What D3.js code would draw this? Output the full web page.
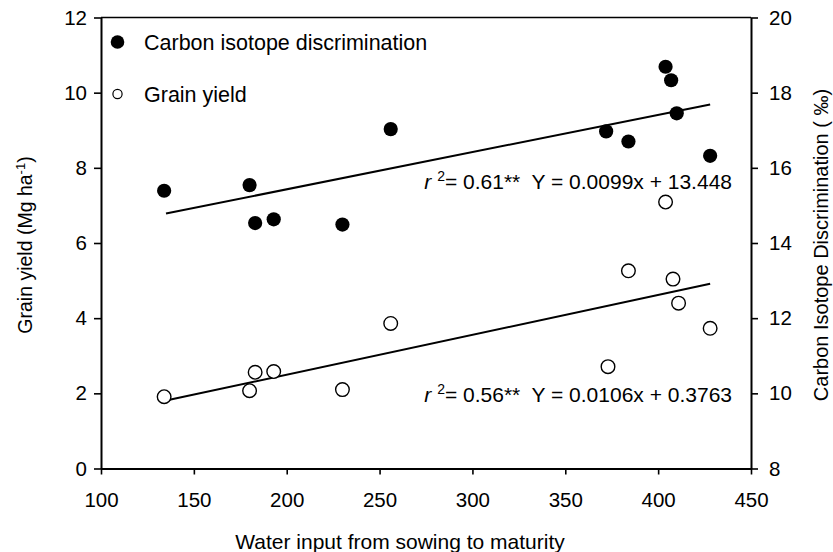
<!DOCTYPE html>
<html>
<head>
<meta charset="utf-8">
<script src="https://cdn.jsdelivr.net/npm/d3@7"></script>
<style>
  html, body { margin: 0; padding: 0; background: #fff; }
  svg { display: block; font-family: "Liberation Sans", Arial, sans-serif; }
  text { fill: #000; white-space: pre; }
</style>
</head>
<body>
<svg id="chart" width="833" height="552"></svg>
<script>
// ---- data ----
const waterInput = [134, 180, 183, 193, 230, 256, 372, 384, 404, 407, 410, 428];
const carbonDiscrimination = [15.39, 15.54, 14.53, 14.63, 14.49, 17.03, 16.97, 16.70, 18.69, 18.33, 17.45, 16.32];
const waterInputYield = [134, 180, 183, 193, 230, 256, 373, 384, 404, 408, 411, 428];
const grainYield = [1.91, 2.07, 2.56, 2.58, 2.10, 3.86, 2.71, 5.26, 7.09, 5.04, 4.40, 3.73];

const xTicks = [100, 150, 200, 250, 300, 350, 400, 450];
const leftTicks = [0, 2, 4, 6, 8, 10, 12];
const rightTicks = [8, 10, 12, 14, 16, 18, 20];

// regression fits: [slope, intercept], x-range of fitted line
const fitCID = [0.0099, 13.448];
const fitYield = [0.0106, 0.3763];
const fitRange = [135, 428];

const legendLabels = ["Carbon isotope discrimination", "Grain yield"];
const annotCID = ["r", "2", "= 0.61**  Y = 0.0099x + 13.448"];
const annotYield = ["r", "2", "= 0.56**  Y = 0.0106x + 0.3763"];

// ---- scales ----
const svg = d3.select("#chart");
const x = d3.scaleLinear().domain([100, 450]).range([101, 751]);
const yL = d3.scaleLinear().domain([0, 12]).range([468.5, 17.5]);
const yR = d3.scaleLinear().domain([8, 20]).range([468.5, 17.5]);

// ---- frame (top border) ----
svg.append("line")
  .attr("x1", x(100)).attr("x2", x(450))
  .attr("y1", yL(12)).attr("y2", yL(12))
  .attr("stroke", "#000").attr("stroke-width", 1.6);

// ---- axes ----
function styleAxis(g) {
  g.selectAll(".domain").attr("stroke", "#000").attr("stroke-width", 2);
  g.selectAll(".tick line").attr("stroke", "#000").attr("stroke-width", 1.6);
  g.selectAll("text").attr("fill", "#000").style("font-size", "20.5px")
    .style("font-family", '"Liberation Sans", Arial, sans-serif');
}

const gx = svg.append("g").attr("transform", `translate(0,${yL(0)})`)
  .call(d3.axisBottom(x).tickValues(xTicks).tickSize(6).tickSizeOuter(0).tickPadding(18));
styleAxis(gx);

const gl = svg.append("g").attr("transform", `translate(${x(100)},0)`)
  .call(d3.axisLeft(yL).tickValues(leftTicks).tickSize(7).tickSizeOuter(0).tickPadding(7));
styleAxis(gl);

const gr = svg.append("g").attr("transform", `translate(${x(450)},0)`)
  .call(d3.axisRight(yR).tickValues(rightTicks).tickSize(7).tickSizeOuter(0).tickPadding(11));
styleAxis(gr);

// ---- regression lines ----
const lineGen = (scale, fit) => d3.line()
  .x(d => x(d)).y(d => scale(fit[0] * d + fit[1]));

svg.append("path").datum(fitRange)
  .attr("d", lineGen(yR, fitCID))
  .attr("fill", "none").attr("stroke", "#000").attr("stroke-width", 2);
svg.append("path").datum(fitRange)
  .attr("d", lineGen(yL, fitYield))
  .attr("fill", "none").attr("stroke", "#000").attr("stroke-width", 2);

// ---- points ----
svg.append("g").selectAll("circle")
  .data(waterInput.map((w, i) => [w, carbonDiscrimination[i]]))
  .join("circle")
  .attr("cx", d => x(d[0])).attr("cy", d => yR(d[1]))
  .attr("r", 7.1).attr("fill", "#000");

svg.append("g").selectAll("circle")
  .data(waterInputYield.map((w, i) => [w, grainYield[i]]))
  .join("circle")
  .attr("cx", d => x(d[0])).attr("cy", d => yL(d[1]))
  .attr("r", 6.8).attr("fill", "#fff").attr("stroke", "#000").attr("stroke-width", 1.4);

// ---- legend ----
const lg = svg.append("g");
lg.append("circle").attr("cx", 117.5).attr("cy", 42).attr("r", 6.8).attr("fill", "#000");
lg.append("circle").attr("cx", 117.5).attr("cy", 94).attr("r", 4.6)
  .attr("fill", "#fff").attr("stroke", "#000").attr("stroke-width", 1.2);
lg.selectAll("text").data(legendLabels).join("text")
  .attr("x", 144).attr("y", (d, i) => i === 0 ? 42 : 94).attr("dy", "0.35em")
  .style("font-size", "21.5px").text(d => d);

// ---- annotations ----
function annot(parts, yBase) {
  const t = svg.append("text").attr("x", 732).attr("y", yBase)
    .attr("text-anchor", "end").style("font-size", "21px");
  t.append("tspan").style("font-style", "italic").text(parts[0] + " ");
  t.append("tspan").attr("dy", -8).style("font-size", "14px").text(parts[1]);
  t.append("tspan").attr("dy", 8).text(parts[2]);
}
annot(annotCID, 189);
annot(annotYield, 402);

// ---- axis titles ----
svg.append("text").attr("x", 400).attr("y", 549).attr("text-anchor", "middle")
  .style("font-size", "21px").text("Water input from sowing to maturity");

const lt = svg.append("text")
  .attr("transform", "translate(32,245) rotate(-90)")
  .attr("text-anchor", "middle").style("font-size", "19.5px");
lt.append("tspan").text("Grain yield (Mg ha");
lt.append("tspan").attr("dy", -7).style("font-size", "13px").text("-1");
lt.append("tspan").attr("dy", 7).text(")");

svg.append("text")
  .attr("transform", "translate(828,245) rotate(-90)")
  .attr("text-anchor", "middle").style("font-size", "20px")
  .text("Carbon Isotope Discrimination ( \u2030)");
</script>
</body>
</html>
